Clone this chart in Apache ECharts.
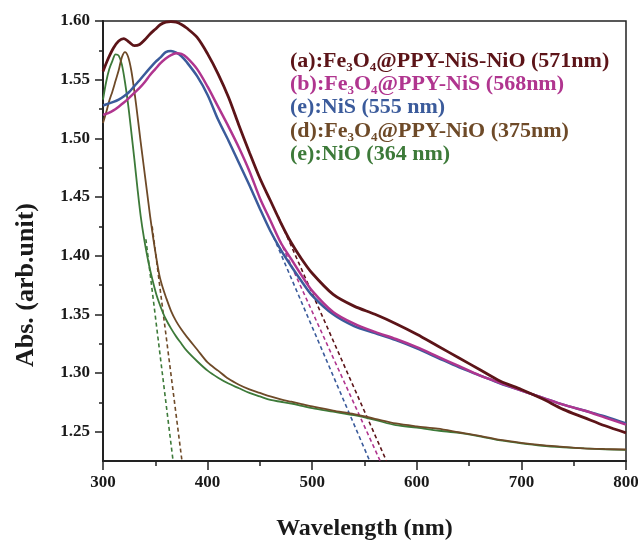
<!DOCTYPE html>
<html>
<head>
<meta charset="utf-8">
<script src="https://cdn.jsdelivr.net/npm/echarts@6/dist/echarts.min.js"></script>
<style>html,body{margin:0;padding:0;background:#fff;}#chart{width:638px;height:540px;}</style>
</head>
<body>
<div id="chart"></div>
<script>
// ---- data ----
const wavelengthsBroad = [300,305,310,315,320,325,330,335,340,345,350,355,360,365,370,375,380,390,400,410,420,430,440,450,460,470,480,490,500,520,540,560,580,600,620,640,660,680,700,720,740,760,780,800];
const absA = [1.557,1.568,1.577,1.583,1.585,1.582,1.579,1.580,1.584,1.589,1.593,1.597,1.599,1.5995,1.599,1.597,1.594,1.586,1.572,1.555,1.535,1.511,1.488,1.466,1.447,1.428,1.411,1.397,1.385,1.367,1.357,1.350,1.342,1.333,1.323,1.313,1.303,1.293,1.286,1.278,1.269,1.262,1.255,1.249];
const absB = [1.520,1.5215,1.5238,1.527,1.5305,1.5345,1.5388,1.543,1.548,1.554,1.559,1.564,1.568,1.571,1.5725,1.572,1.569,1.559,1.544,1.527,1.510,1.492,1.472,1.449,1.430,1.411,1.397,1.383,1.370,1.352,1.342,1.335,1.329,1.322,1.314,1.306,1.298,1.2915,1.285,1.279,1.273,1.268,1.262,1.256];
const absNiS = [1.528,1.5295,1.531,1.533,1.5358,1.5395,1.5445,1.5495,1.5548,1.560,1.565,1.569,1.5735,1.5745,1.573,1.570,1.565,1.553,1.537,1.516,1.498,1.479,1.460,1.440,1.421,1.405,1.391,1.378,1.366,1.350,1.340,1.334,1.328,1.321,1.313,1.305,1.298,1.291,1.285,1.279,1.273,1.268,1.263,1.257];

const wavelengthsNarrow = [300,303,306,309,312,315,318,321,324,327,330,333,336,339,342,345,348,351,354,357,360,365,370,375,380,390,400,410,420,430,440,450,460,470,480,490,500,520,540,560,580,600,620,640,660,680,700,720,740,760,780,800];
const absD = [1.513,1.522,1.532,1.540,1.549,1.558,1.569,1.5735,1.5695,1.558,1.540,1.519,1.497,1.476,1.455,1.434,1.415,1.398,1.383,1.373,1.365,1.353,1.344,1.337,1.331,1.320,1.309,1.302,1.295,1.290,1.286,1.283,1.280,1.2775,1.2755,1.2735,1.2715,1.268,1.265,1.261,1.257,1.2545,1.2525,1.2495,1.2465,1.243,1.2405,1.2385,1.237,1.2358,1.2352,1.2348];
const absNiO = [1.533,1.548,1.559,1.566,1.5715,1.5705,1.563,1.548,1.529,1.506,1.482,1.457,1.434,1.416,1.401,1.388,1.377,1.367,1.359,1.352,1.346,1.338,1.331,1.325,1.319,1.310,1.302,1.296,1.291,1.287,1.283,1.280,1.277,1.2755,1.274,1.272,1.270,1.267,1.264,1.260,1.2555,1.2535,1.251,1.249,1.246,1.2425,1.240,1.238,1.2367,1.2357,1.235,1.2345];

// tangent (band-edge) lines: [wavelength, absorbance] at start and end
const tangentA_x = [467.7, 571];   const tangentA_y = [1.433, 1.225];
const tangentB_x = [469, 565];     const tangentB_y = [1.413, 1.225];
const tangentNiS_x = [463, 555];   const tangentNiS_y = [1.416, 1.225];
const tangentD_x = [347, 375.5];   const tangentD_y = [1.425, 1.225];
const tangentNiO_x = [341, 367];   const tangentNiO_y = [1.414, 1.225];

const seriesNames = ['(a):Fe3O4@PPY-NiS-NiO (571nm)','(b):Fe3O4@PPY-NiS (568nm)','(e):NiS (555 nm)','(d):Fe3O4@PPY-NiO (375nm)','(e):NiO (364 nm)'];
const yMajorTicks = [1.25,1.30,1.35,1.40,1.45,1.50,1.55,1.60];
const yMinorTicks = [1.275,1.325,1.375,1.425,1.475,1.525,1.575];

// ---- styling ----
const colors = ['#5c1418','#b0358f','#3b5b9b','#6e4a28','#3d7a39'];
const FONT = '"Liberation Serif","Times New Roman",serif';
const zip = (xs, ys) => xs.map((x, i) => [x, ys[i]]);

const curves = [
  {x: wavelengthsBroad, y: absA, w: 2.8},
  {x: wavelengthsBroad, y: absB, w: 2.5},
  {x: wavelengthsBroad, y: absNiS, w: 2.5},
  {x: wavelengthsNarrow, y: absD, w: 1.8},
  {x: wavelengthsNarrow, y: absNiO, w: 1.8}
];
const tangents = [
  [tangentA_x, tangentA_y], [tangentB_x, tangentB_y], [tangentNiS_x, tangentNiS_y],
  [tangentD_x, tangentD_y], [tangentNiO_x, tangentNiO_y]
];

const series = [];
tangents.forEach((t, i) => {
  series.push({
    type: 'line', name: seriesNames[i] + ' fit', data: zip(t[0], t[1]),
    showSymbol: false, silent: true, z: 1,
    lineStyle: {color: colors[i], width: 1.6, type: [4, 3]}
  });
});
[4,3,2,1,0].forEach(i => {
  series.push({
    type: 'line', name: seriesNames[i], data: zip(curves[i].x, curves[i].y),
    showSymbol: false, smooth: 0.3, z: 2,
    lineStyle: {color: colors[i], width: curves[i].w}, itemStyle: {color: colors[i]}
  });
});

const richName = s => s.replace(/Fe3O4/g, 'Fe{s|3}O{s|4}');
const legendGraphics = seriesNames.map((n, i) => ({
  type: 'text', x: 290, y: 61 + i * 23.3,
  style: {
    text: richName(n), fill: colors[i], font: 'bold 22px ' + FONT,
    verticalAlign: 'middle', align: 'left',
    rich: {s: {font: 'bold 13px ' + FONT, fill: colors[i], padding: [11, 0, 0, 0], verticalAlign: 'top', lineHeight: 13}}
  }
}));

const chart = echarts.init(document.getElementById('chart'), null, {renderer: 'canvas'});
chart.setOption({
  animation: false,
  backgroundColor: '#fff',
  grid: {left: 103, right: 12, top: 21, bottom: 79, containLabel: false, outerBoundsMode: 'none',
         show: true, borderColor: '#222', borderWidth: 1.5, backgroundColor: 'transparent'},
  xAxis: {
    type: 'value', min: 300, max: 800, interval: 100,
    name: 'Wavelength (nm)', nameLocation: 'middle', nameGap: 56,
    nameTextStyle: {fontFamily: FONT, fontWeight: 'bold', fontSize: 24, color: '#1a1a1a'},
    axisLine: {show: true, lineStyle: {color: '#222', width: 2}},
    axisTick: {show: true, length: 9, lineStyle: {color: '#222', width: 1.5}},
    minorTick: {show: true, splitNumber: 2, length: 5, lineStyle: {color: '#222', width: 1.5}},
    axisLabel: {fontFamily: FONT, fontWeight: 'bold', fontSize: 17, color: '#1a1a1a', margin: 13},
    splitLine: {show: false}
  },
  yAxis: [{
    type: 'value', min: 1.225, max: 1.60, position: 'left',
    axisLine: {show: true, lineStyle: {color: '#222', width: 2}},
    axisTick: {show: true, length: 8, customValues: yMajorTicks, lineStyle: {color: '#222', width: 1.5}},
    axisLabel: {customValues: yMajorTicks, formatter: v => v.toFixed(2), fontFamily: FONT, fontWeight: 'bold', fontSize: 17, color: '#1a1a1a', margin: 13},
    splitLine: {show: false}
  }, {
    type: 'value', min: 1.225, max: 1.60, position: 'left', offset: 0,
    axisLine: {show: false},
    axisTick: {show: true, length: 4, customValues: yMinorTicks, lineStyle: {color: '#222', width: 1.5}},
    axisLabel: {show: false},
    splitLine: {show: false}
  }],
  graphic: [
    {type: 'text', x: 26, y: 285, rotation: Math.PI / 2,
     style: {text: 'Abs. (arb.unit)', font: 'bold 26px ' + FONT, fill: '#1a1a1a', align: 'center', verticalAlign: 'middle'}}
  ].concat(legendGraphics),
  series: series
});
</script>
</body>
</html>
